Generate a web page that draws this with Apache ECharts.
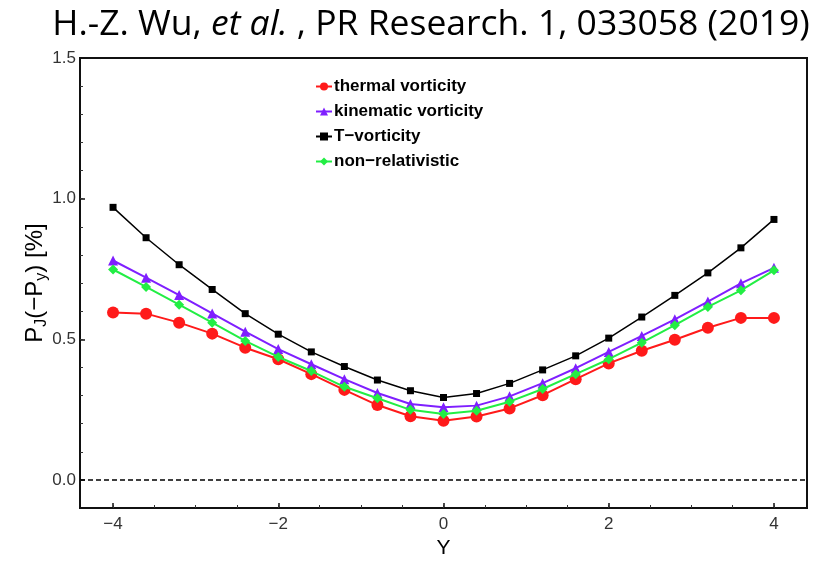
<!DOCTYPE html>
<html>
<head>
<meta charset="utf-8">
<script src="https://cdn.jsdelivr.net/npm/echarts@6/dist/echarts.min.js"></script>
<style>
html,body{margin:0;padding:0;background:#fff;}
#c{width:818px;height:564px;}
</style>
</head>
<body>
<div id="c"></div>
<script>
const xValues = [-4.0,-3.6,-3.2,-2.8,-2.4,-2.0,-1.6,-1.2,-0.8,-0.4,0.0,0.4,0.8,1.2,1.6,2.0,2.4,2.8,3.2,3.6,4.0];
const thermal   = [0.595,0.591,0.559,0.520,0.470,0.429,0.376,0.320,0.266,0.226,0.210,0.225,0.254,0.301,0.358,0.414,0.459,0.498,0.541,0.576,0.576];
const kinematic = [0.780,0.719,0.657,0.592,0.527,0.465,0.411,0.358,0.309,0.270,0.258,0.264,0.297,0.344,0.397,0.455,0.512,0.571,0.634,0.699,0.754];
const tVort     = [0.969,0.861,0.765,0.677,0.591,0.518,0.455,0.403,0.355,0.317,0.293,0.307,0.343,0.391,0.441,0.504,0.579,0.656,0.736,0.825,0.926];
const nonRel    = [0.748,0.686,0.623,0.559,0.494,0.437,0.387,0.331,0.290,0.249,0.234,0.246,0.278,0.323,0.376,0.429,0.488,0.550,0.615,0.674,0.745];
const seriesNames = ['thermal vorticity','kinematic vorticity','T\u2212vorticity','non\u2212relativistic'];
const xMajorTicks = [-4,-2,0,2,4];
const xMinorTicks = [-4,-3.5,-3,-2.5,-2,-1.5,-1,-0.5,0,0.5,1,1.5,2,2.5,3,3.5,4];
const yMajorTicks = [0,0.5,1.0,1.5];
const yMinorTicks = [0,0.1,0.2,0.3,0.4,0.5,0.6,0.7,0.8,0.9,1.0,1.1,1.2,1.3,1.4];

const pair = arr => xValues.map((x,i)=>[x,arr[i]]);
const fmtX = v => (v<0 ? '\u2212'+Math.abs(v) : String(v));
const fmtY = v => v.toFixed(1);

const chart = echarts.init(document.getElementById('c'), null, {renderer:'canvas'});
const axisFont = {fontFamily:'Liberation Sans', fontSize:17, color:'#333'};

chart.setOption({
  animation:false,
  backgroundColor:'#fff',
  title:{
    text:'{n|H.-Z. Wu, }{i|et al.}{n| , PR Research. 1, 033058 (2019)}',
    left:426, top:2, textAlign:'center',
    textStyle:{
      fontWeight:'normal',
      rich:{
        n:{fontFamily:'Open Sans', fontSize:35.5, fontWeight:'normal', color:'#000'},
        i:{fontFamily:'Open Sans', fontSize:35.5, fontWeight:'normal', fontStyle:'italic', color:'#000'}
      }
    }
  },
  legend:{
    left:310, top:73, orient:'vertical', itemGap:8,
    itemWidth:16, itemHeight:10,
    textStyle:{fontFamily:'Liberation Sans', fontWeight:'bold', fontSize:17, color:'#000', padding:[0,0,0,-3]},
    data:seriesNames
  },
  grid:{left:80, right:11, top:58, bottom:55, show:true, borderColor:'#111', borderWidth:2, backgroundColor:'transparent'},
  xAxis:[{
    type:'value', min:-4.4, max:4.4,
    name:'Y', nameLocation:'middle', nameGap:30,
    nameTextStyle:{fontFamily:'Liberation Sans', fontSize:21, color:'#000'},
    axisLine:{show:true, onZero:false, lineStyle:{color:'#111', width:2}},
    axisTick:{show:true, inside:true, length:5, customValues:xMajorTicks, lineStyle:{color:'#111', width:1.5}},
    axisLabel:{customValues:xMajorTicks, formatter:fmtX, margin:8, ...axisFont},
    splitLine:{show:false}
  },{
    type:'value', min:-4.4, max:4.4, position:'bottom',
    axisLine:{show:false, onZero:false}, axisLabel:{show:false}, splitLine:{show:false},
    axisTick:{show:true, inside:true, length:3, customValues:xMinorTicks, lineStyle:{color:'#333', width:1}}
  }],
  yAxis:[{
    type:'value', min:-0.1, max:1.5,
    name:'{b|P}{s|J}{b|(\u2212P}{s|y}{b|) [%]}', nameLocation:'middle', nameGap:30,
    nameMoveOverlap:false,
    nameTextStyle:{
      rich:{
        b:{fontFamily:'Liberation Sans', fontSize:24, color:'#000', lineHeight:30, verticalAlign:'middle'},
        s:{fontFamily:'Liberation Sans', fontSize:16, color:'#000', lineHeight:30, verticalAlign:'bottom', padding:[11,0,0,0]}
      }
    },
    axisLine:{show:true, onZero:false, lineStyle:{color:'#111', width:2}},
    axisTick:{show:true, inside:true, length:5, customValues:yMajorTicks, lineStyle:{color:'#111', width:1.5}},
    axisLabel:{customValues:yMajorTicks, formatter:fmtY, margin:4, ...axisFont},
    splitLine:{show:false}
  },{
    type:'value', min:-0.1, max:1.5, position:'left',
    axisLine:{show:false, onZero:false}, axisLabel:{show:false}, splitLine:{show:false},
    axisTick:{show:true, inside:true, length:3, customValues:yMinorTicks, lineStyle:{color:'#333', width:1}}
  }],
  series:[
    {name:seriesNames[0], type:'line', data:pair(thermal), symbol:'circle', symbolSize:12,
     itemStyle:{color:'#ff1a1a'}, lineStyle:{color:'#ff1a1a', width:2}, z:2,
     markLine:{silent:true, symbol:['none','none'], label:{show:false},
       lineStyle:{color:'#000', type:[5,3], width:1.5}, data:[{yAxis:0}]}},
    {name:seriesNames[1], type:'line', data:pair(kinematic), symbol:'triangle', symbolSize:10,
     itemStyle:{color:'#7f1fff'}, lineStyle:{color:'#7f1fff', width:2}, z:3},
    {name:seriesNames[2], type:'line', data:pair(tVort), symbol:'rect', symbolSize:7,
     itemStyle:{color:'#000'}, lineStyle:{color:'#000', width:1.5}, z:4},
    {name:seriesNames[3], type:'line', data:pair(nonRel), symbol:'diamond', symbolSize:10,
     itemStyle:{color:'#22ee44'}, lineStyle:{color:'#22ee44', width:2}, z:5}
  ]
});
</script>
</body>
</html>
